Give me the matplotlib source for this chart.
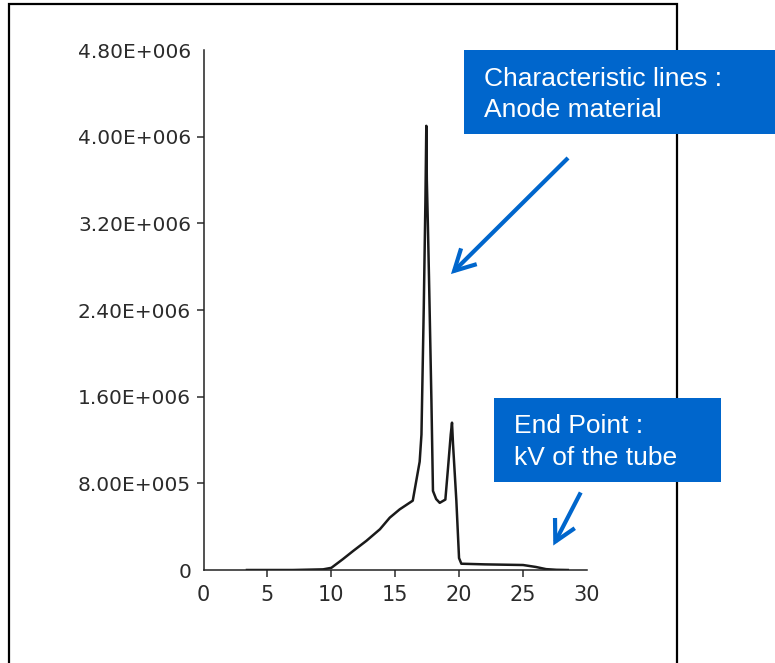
import matplotlib.pyplot as plt
import matplotlib.patches as mpatches
from matplotlib.transforms import IdentityTransform

# tube spectrum: energy (keV) vs counts
energy = [3.4, 5.0, 7.0, 9.36, 10.0, 10.9, 11.7, 12.75, 13.8, 14.57, 15.35, 16.37,
          16.91, 17.05, 17.23, 17.36, 17.43, 17.47, 17.55, 17.64, 17.83, 17.95,
          18.2, 18.48, 18.92, 19.13, 19.34, 19.44, 19.52, 19.78, 19.99, 20.17,
          22.0, 25.0, 26.0, 26.8, 27.6, 28.5]
counts = [0.0, 0.0, 0.0, 0.006e6, 0.02e6, 0.10e6, 0.175e6, 0.27e6, 0.376e6, 0.483e6,
          0.56e6, 0.64e6, 1.0e6, 1.25e6, 2.42e6, 3.41e6, 4.10e6, 3.60e6, 3.2e6,
          2.70e6, 1.56e6, 0.73e6, 0.655e6, 0.62e6, 0.65e6, 0.945e6, 1.25e6,
          1.36e6, 1.16e6, 0.64e6, 0.11e6, 0.058e6, 0.052e6, 0.046e6, 0.028e6,
          0.008e6, 0.002e6, 0.0]

x_ticks = [0, 5, 10, 15, 20, 25, 30]
y_ticks = [0, 0.8e6, 1.6e6, 2.4e6, 3.2e6, 4.0e6, 4.8e6]
y_labels = ["0", "8.00E+005", "1.60E+006", "2.40E+006", "3.20E+006", "4.00E+006", "4.80E+006"]

W, H = 775, 663
blue = "#0066cc"

fig = plt.figure(figsize=(W / 100, H / 100), dpi=100)
ax = fig.add_axes([203.5 / W, (H - 570) / H, (587 - 203.5) / W, (570 - 50) / H])

ax.plot(energy, counts, color="#1a1a1a", lw=1.8, solid_joinstyle="round")

ax.set_xlim(0, 30)
ax.set_ylim(0, 4.8e6)
ax.set_xticks(x_ticks)
ax.set_yticks(y_ticks)
ax.set_yticklabels(y_labels)
ax.tick_params(colors="#2b2b2b", labelsize=14.5, length=5, width=1.1, pad=4)
ax.tick_params(axis="x", labelsize=15, pad=6)
for side in ["top", "right"]:
    ax.spines[side].set_visible(False)
for side in ["left", "bottom"]:
    ax.spines[side].set_color("#222222")
    ax.spines[side].set_linewidth(1.1)

# no tick marks at the axis ends
ax.yaxis.get_major_ticks()[-1].tick1line.set_visible(False)
ax.yaxis.get_major_ticks()[0].tick1line.set_visible(False)
ax.xaxis.get_major_ticks()[0].tick1line.set_visible(False)
ax.xaxis.get_major_ticks()[-1].tick1line.set_visible(False)

px = IdentityTransform()


def fy(y):
    # pixel row from the top -> display y
    return H - y


# outer frame, open at the bottom
frame = mpatches.Rectangle((9, fy(700)), 677 - 9, 700 - 4, transform=px,
                           fill=False, edgecolor="black", lw=1.6, zorder=1)
fig.add_artist(frame)

# callout boxes
box1 = mpatches.Rectangle((464, fy(134)), 340, 84, transform=px,
                          facecolor=blue, edgecolor="none", zorder=3)
box2 = mpatches.Rectangle((494, fy(482)), 227, 84, transform=px,
                          facecolor=blue, edgecolor="none", zorder=3)
fig.add_artist(box1)
fig.add_artist(box2)

txt = dict(transform=px, color="white", fontsize=19, family="Liberation Sans",
           va="baseline", ha="left", zorder=4)
fig.text(484, fy(86), "Characteristic lines :", **txt)
fig.text(484, fy(117), "Anode material", **txt)
fig.text(514, fy(433), "End Point :", **txt)
fig.text(514, fy(465), "kV of the tube", **txt)

# arrows
style = mpatches.ArrowStyle("->", head_length=15, head_width=8)
for (x0, y0), (x1, y1) in [((570, 156), (449, 276)), ((582, 490), (552, 548))]:
    arr = mpatches.FancyArrowPatch((x0, fy(y0)), (x1, fy(y1)), transform=px,
                                   arrowstyle=style, color=blue, lw=3,
                                   mutation_scale=1, capstyle="butt",
                                   joinstyle="miter", zorder=4)
    fig.add_artist(arr)

fig.savefig("out.png", dpi=100)
plt.close(fig)
